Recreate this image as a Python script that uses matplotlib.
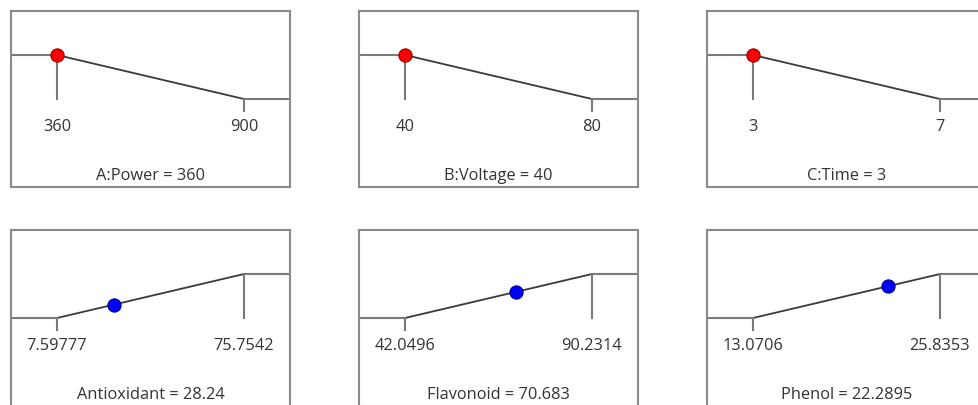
import numpy as np
import matplotlib
matplotlib.use("Agg")
import matplotlib.pyplot as plt

plt.rcParams['font.family'] = ['Open Sans', 'DejaVu Sans']

# factors (top row): desirability ramps down from low to high setting
factor_names = ["A:Power", "B:Voltage", "C:Time"]
factor_lows = [360, 40, 3]
factor_highs = [900, 80, 7]
factor_values = [360, 40, 3]
factor_low_labels = ["360", "40", "3"]
factor_high_labels = ["900", "80", "7"]
factor_value_labels = ["360", "40", "3"]

# responses (bottom row): desirability ramps up from low to high bound
response_names = ["Antioxidant", "Flavonoid", "Phenol"]
response_lows = [7.59777, 42.0496, 13.0706]
response_highs = [75.7542, 90.2314, 25.8353]
response_values = [28.24, 70.683, 22.2895]
response_low_labels = ["7.59777", "42.0496", "13.0706"]
response_high_labels = ["75.7542", "90.2314", "25.8353"]
response_value_labels = ["28.24", "70.683", "22.2895"]

W, H = 979, 405
fig = plt.figure(figsize=(W / 100, H / 100), dpi=100)

col_left = [11, 359, 707]
row_top = [11, 230]
pw, ph = 279, 176
pad = 46 / 187  # margin either side of the ramp, relative to the range

border_col = "#8a8a8a"
flat_col = "#7a7a7a"
slope_col = "#3a3a3a"
text_col = "#333333"
fs = 11.8


def panel(left, top, lo, hi, val, lo_lab, hi_lab, title, rising, colour, edge):
    ax = fig.add_axes([left / W, 1 - (top + ph) / H, pw / W, ph / H])
    span = hi - lo
    x0, x1 = lo - span * pad, hi + span * pad
    ax.set_xlim(x0, x1)
    ax.set_ylim(-2, 2)
    d_lo, d_hi = (0, 1) if rising else (1, 0)
    xs = [x0, lo, hi, x1]
    ds = [d_lo, d_lo, d_hi, d_hi]
    ax.plot(xs[:2], ds[:2], color=flat_col, lw=1.5, solid_capstyle="butt")
    ax.plot(xs[2:], ds[2:], color=flat_col, lw=1.5, solid_capstyle="butt")
    ax.plot(xs[1:3], ds[1:3], color=slope_col, lw=1.3)
    # bound ticks: full drop at the desirable end, short tick at the other
    for x, d in ((lo, d_lo), (hi, d_hi)):
        if d == 1:
            ax.plot([x, x], [1, 0], color=flat_col, lw=1.5)
        else:
            ax.plot([x, x], [0, -0.28], color=flat_col, lw=1.5)
    dv = np.interp(val, [lo, hi], [d_lo, d_hi])
    ax.plot([val], [dv], "o", ms=9.5, color=colour, mec=edge, mew=0.8, zorder=5)
    ax.text(lo, -0.64, lo_lab, ha="center", va="center", fontsize=fs, color=text_col)
    ax.text(hi, -0.64, hi_lab, ha="center", va="center", fontsize=fs, color=text_col)
    ax.text((x0 + x1) / 2, -1.74, title, ha="center", va="center", fontsize=fs, color=text_col)
    ax.set_xticks([])
    ax.set_yticks([])
    for s in ax.spines.values():
        s.set_color(border_col)
        s.set_linewidth(1.5)


for i in range(3):
    panel(col_left[i], row_top[0], factor_lows[i], factor_highs[i], factor_values[i],
          factor_low_labels[i], factor_high_labels[i],
          f"{factor_names[i]} = {factor_value_labels[i]}", False, "#ff0000", "#8b0000")
    panel(col_left[i], row_top[1], response_lows[i], response_highs[i], response_values[i],
          response_low_labels[i], response_high_labels[i],
          f"{response_names[i]} = {response_value_labels[i]}", True, "#0000ff", "#00008b")

fig.savefig("out.png", dpi=100)
